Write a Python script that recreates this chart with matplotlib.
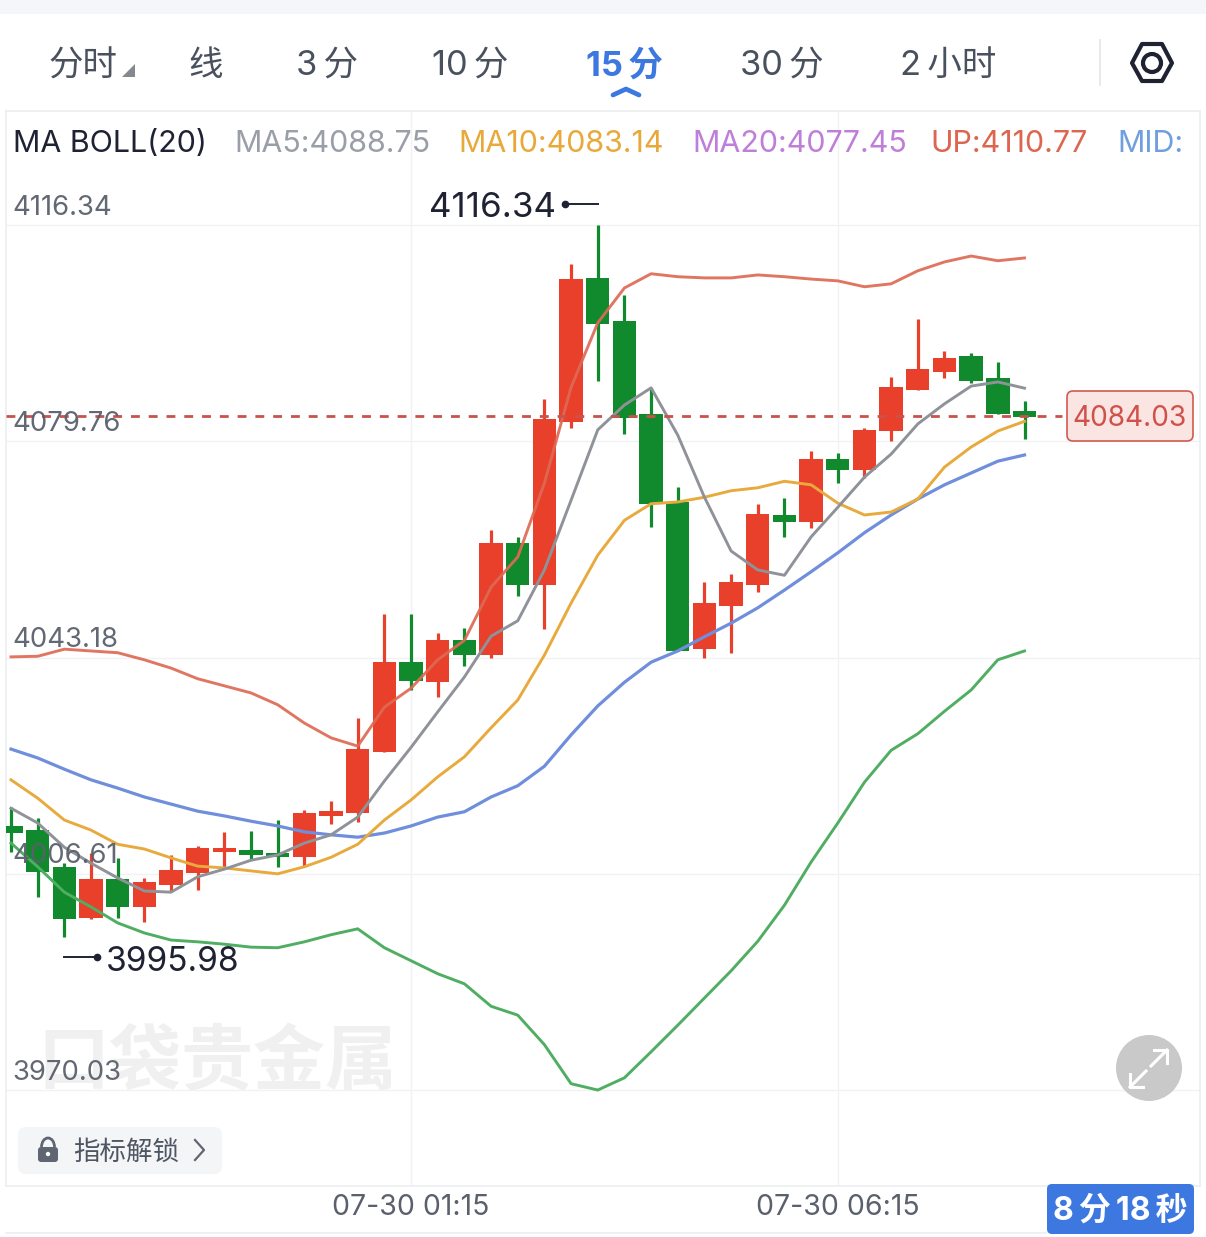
"""
plot.py - 15 minute gold candle chart with MA and BOLL(20) lines, app screen look.
"""

import matplotlib
matplotlib.use("Agg")
import matplotlib.pyplot as plt
from matplotlib.patches import Circle, FancyBboxPatch, Polygon, Rectangle, Arc

W, H = 1206, 1237
FONT = ["Inter", "Noto Sans CJK SC", "DejaVu Sans"]
plt.rcParams["font.family"] = FONT

# ── Data ─────────────────────────────────────────────────────────────────────

opens = [4014.7, 4014.0, 4007.8, 3999.1, 4005.7, 4001.0, 4004.7, 4006.7, 4010.3, 4010.6,
         4010.1, 4009.4, 4016.4, 4016.9, 4027.2, 4042.4, 4039.0, 4046.1, 4043.6, 4062.6,
         4055.5, 4083.0, 4107.4, 4100.1, 4084.4, 4069.5, 4044.6, 4051.9, 4055.5, 4067.3,
         4066.1, 4076.8, 4074.9, 4081.5, 4088.4, 4091.5, 4094.2, 4090.5, 4084.9]
closes = [4013.5, 4006.9, 3999.0, 4005.7, 4001.0, 4005.2, 4007.3, 4011.0, 4011.0, 4009.8,
          4009.4, 4016.9, 4017.2, 4027.7, 4042.4, 4039.2, 4046.1, 4043.6, 4062.6, 4055.5,
          4083.5, 4107.2, 4099.6, 4083.7, 4069.2, 4044.3, 4052.4, 4056.0, 4067.5, 4066.1,
          4076.8, 4074.9, 4081.7, 4088.9, 4092.0, 4093.9, 4090.0, 4084.4, 4083.9]
highs = [4017.9, 4016.0, 4008.4, 4010.1, 4009.3, 4005.9, 4009.8, 4011.3, 4013.7, 4013.8,
         4015.7, 4017.4, 4018.9, 4033.0, 4050.5, 4050.5, 4047.3, 4048.2, 4064.8, 4063.6,
         4086.9, 4109.75, 4116.34, 4104.5, 4088.8, 4072.0, 4056.0, 4057.3, 4069.2, 4070.2,
         4078.1, 4077.8, 4082.0, 4090.6, 4100.4, 4095.0, 4094.7, 4093.2, 4086.6]
lows = [4010.3, 4002.7, 3995.98, 3999.0, 3999.1, 3998.5, 4003.7, 4003.9, 4007.6, 4008.9,
        4007.8, 4007.9, 4015.0, 4015.4, 4027.2, 4037.7, 4036.5, 4041.8, 4043.1, 4053.6,
        4048.0, 4082.0, 4090.0, 4081.0, 4065.3, 4044.3, 4043.1, 4044.0, 4054.3, 4063.6,
        4065.1, 4072.7, 4073.6, 4079.8, 4088.4, 4090.5, 4089.6, 4084.4, 4080.2]

ma5 = [4017.7, 4015.2, 4011.1, 4008.4, 4005.9, 4003.7, 4003.5, 4006.1, 4007.4, 4008.9,
       4009.8, 4011.8, 4013.2, 4016.2, 4022.3, 4028.0, 4034.0, 4039.9, 4046.8, 4049.4,
       4058.0, 4069.8, 4081.7, 4085.9, 4088.8, 4080.8, 4070.3, 4061.2, 4058.0, 4057.1,
       4063.6, 4068.6, 4073.7, 4077.6, 4082.7, 4086.1, 4089.1, 4089.8, 4088.75]
ma10 = [4022.5, 4019.4, 4015.7, 4014.0, 4011.6, 4010.8, 4009.3, 4007.9, 4007.6, 4007.1,
        4006.6, 4007.8, 4009.4, 4011.6, 4015.7, 4019.1, 4023.0, 4026.4, 4031.3, 4036.0,
        4043.6, 4052.4, 4060.5, 4066.4, 4069.2, 4069.5, 4070.3, 4071.4, 4071.9, 4073.0,
        4072.4, 4069.3, 4067.3, 4067.8, 4070.0, 4075.4, 4078.8, 4081.5, 4083.14]
boll_mid = [4027.7, 4026.2, 4024.3, 4022.5, 4021.1, 4019.6, 4018.4, 4017.2, 4016.4, 4015.5,
            4014.7, 4013.7, 4013.2, 4012.8, 4013.5, 4014.7, 4016.2, 4017.1, 4019.6, 4021.5,
            4024.8, 4030.1, 4035.0, 4039.0, 4042.4, 4044.3, 4046.7, 4049.0, 4051.6, 4054.6,
            4057.7, 4060.9, 4064.3, 4067.3, 4070.0, 4072.4, 4074.4, 4076.4, 4077.45]
boll_up = [4043.3, 4043.4, 4044.6, 4044.3, 4044.0, 4042.8, 4041.4, 4039.6, 4038.4, 4037.2,
           4035.2, 4032.1, 4029.6, 4028.2, 4034.8, 4038.0, 4042.8, 4046.1, 4055.1, 4060.2,
           4072.7, 4088.9, 4099.8, 4105.7, 4108.1, 4107.6, 4107.4, 4107.4, 4107.9, 4107.6,
           4107.2, 4106.9, 4105.9, 4106.4, 4108.6, 4110.1, 4111.1, 4110.3, 4110.77]
boll_dn = [4011.8, 4007.8, 4003.5, 4001.0, 3998.3, 3996.6, 3995.4, 3995.1, 3994.7, 3994.2,
           3994.1, 3995.1, 3996.3, 3997.3, 3994.1, 3991.9, 3989.7, 3988.0, 3984.2, 3982.7,
           3977.7, 3971.1, 3970.03, 3972.1, 3976.5, 3981.0, 3985.6, 3990.2, 3995.2, 4001.3,
           4008.6, 4015.2, 4022.1, 4027.5, 4030.3, 4034.1, 4037.7, 4042.8, 4044.3]

last_price = 4084.03
price_ticks = [4116.34, 4079.76, 4043.18, 4006.61, 3970.03]
price_labels = ["4116.34", "4079.76", "4043.18", "4006.61", "3970.03"]
time_ticks = [15, 31]
time_labels = ["07-30 01:15", "07-30 06:15"]
tabs = ["分时", "线", "3\u2009分", "10\u2009分", "15\u2009分", "30\u2009分", "2\u2009小时"]
legend_labels = ["MA BOLL(20)", "MA5:4088.75", "MA10:4083.14", "MA20:4077.45", "UP:4110.77", "MID:"]

RED = "#e8402a"
GREEN = "#108a2c"
INK = "#1e2233"
LABEL = "#5a606c"
BLUE = "#3d78e0"
LINE = "#ebecef"


def px_axes(fig, z):
    a = fig.add_axes([0, 0, 1, 1], zorder=z)
    a.set_xlim(0, W)
    a.set_ylim(H, 0)
    a.axis("off")
    a.patch.set_alpha(0)
    return a


def fs(px):
    return px * 72 / 100


fig = plt.figure(figsize=(W / 100, H / 100), dpi=100, facecolor="white")

# ── Watermark and band behind the chart ──────────────────────────────────────

back = px_axes(fig, 0)
back.add_patch(Rectangle((0, 0), W, 14, color="#f5f6f9", lw=0))
back.text(217, 1064, "口袋贵金属", fontsize=fs(72), fontweight="bold", color="#f0f0f1",
          ha="center", va="center", style="italic")

# ── Price chart ──────────────────────────────────────────────────────────────

ax = fig.add_axes([6 / W, (H - 1186) / H, 1194 / W, 1075 / H], zorder=1)
ax.patch.set_alpha(0)
ax.set_xlim(-0.1875, 44.58)
ax.set_ylim(3953.80, 4135.63)

for s in ax.spines.values():
    s.set_color(LINE)
    s.set_linewidth(1.1)

ax.set_yticks(price_ticks)
ax.set_xticks(time_ticks)
ax.set_xticklabels(time_labels, fontsize=fs(28.5), color=LABEL)
ax.tick_params(length=0, labelleft=False, pad=6)
ax.grid(color="#f1f2f4", linewidth=1.0)
ax.set_axisbelow(True)

idx = list(range(len(opens)))
colors = [RED if c >= o else GREEN for o, c in zip(opens, closes)]
ax.vlines(idx, lows, highs, colors=colors, linewidth=2.3, zorder=2)
ax.bar(idx, [abs(c - o) for o, c in zip(opens, closes)],
       bottom=[min(o, c) for o, c in zip(opens, closes)],
       width=0.875, color=colors, linewidth=0, zorder=3)

ax.plot(idx, boll_up, color="#de6a55", lw=2.1, alpha=0.92, zorder=4)
ax.plot(idx, boll_dn, color="#4fae62", lw=2.1, zorder=4)
ax.plot(idx, boll_mid, color="#6f8edb", lw=2.3, zorder=4)
ax.plot(idx, ma10, color="#e8aa3c", lw=2.1, zorder=4)
ax.plot(idx, ma5, color="#8f9299", lw=2.1, zorder=4)

ax.plot([-0.1875, 39.4], [last_price, last_price], color="#c9524d", lw=2.0,
        dashes=(3.2, 3.2), zorder=5)

for tick, lab in zip(price_ticks, price_labels):
    ax.annotate(lab, (0, tick), xycoords=ax.get_yaxis_transform(),
                xytext=(4.5, 12.5), textcoords="offset points", fontsize=fs(27.5),
                color=LABEL, ha="left", va="center", zorder=6, alpha=0.95)

# ── App chrome on top ────────────────────────────────────────────────────────

top = px_axes(fig, 2)

tab_x = [83, 206, 327, 470, 624, 782, 948]
for i, (t, x) in enumerate(zip(tabs, tab_x)):
    active = "15" in t
    top.text(x, 66, t, fontsize=fs(34.5), ha="center", va="center",
             color=BLUE if active else "#4a515e",
             fontweight="bold" if active else "normal")

top.add_patch(Polygon([[135, 64], [135, 77], [122, 77]], color="#85888f", lw=0))
top.plot([613, 626, 639], [95, 89, 95], color=BLUE, lw=3.4, solid_capstyle="round",
         solid_joinstyle="round")
top.plot([1100, 1100], [40, 85], color="#e8e9eb", lw=1.4)
top.add_patch(Polygon([[1132, 63], [1142, 44], [1162, 44], [1172, 63], [1162, 81], [1142, 81]],
                      closed=True, fill=False, ec=INK, lw=3.0, joinstyle="round"))
top.add_patch(Circle((1152, 63), 9, fill=False, ec=INK, lw=3.0))

legend_x = [13, 234, 458, 692, 930, 1117]
legend_c = [INK, "#9a9ea8", "#e8a93a", "#bf7fd9", "#dd6650", "#6f9fe0"]
for t, x, c in zip(legend_labels, legend_x, legend_c):
    top.text(x, 144, t, fontsize=fs(30.4), color=c, ha="left", va="center")

# high / low markers
top.text(429, 208, "4116.34", fontsize=fs(35), color=INK, ha="left", va="center")
top.plot([565, 598], [204, 204], color=INK, lw=1.4)
top.plot([565], [204], "o", color=INK, ms=4.5)
top.text(106, 962, "3995.98", fontsize=fs(33.5), color=INK, ha="left", va="center")
top.plot([64, 97], [957, 957], color=INK, lw=1.4)
top.plot([97], [957], "o", color=INK, ms=4.5)

# last price tag
top.add_patch(FancyBboxPatch((1069, 393), 122, 46, boxstyle="round,pad=2,rounding_size=6",
                             fc="#fbe5e3", ec="#d05a50", lw=1.2))
top.text(1130, 418, "4084.03", fontsize=fs(28), color="#d0514a", ha="center", va="center")

# expand button
top.add_patch(Circle((1149, 1068), 33, color="#c9c9c9", lw=0))
top.plot([1130, 1146], [1087, 1071], color="white", lw=2.2)
top.plot([1130, 1130, 1143], [1074, 1087, 1087], color="white", lw=2.2)
top.plot([1151, 1167], [1066, 1050], color="white", lw=2.2)
top.plot([1154, 1167, 1167], [1050, 1050, 1063], color="white", lw=2.2)

# indicator unlock button
top.add_patch(FancyBboxPatch((24, 1133), 192, 35, boxstyle="round,pad=6,rounding_size=8",
                             fc="#f4f5f7", ec="none"))
top.add_patch(FancyBboxPatch((38, 1147), 20, 15, boxstyle="round,pad=0,rounding_size=3",
                             fc="#5f6672", ec="none"))
top.add_patch(Arc((48, 1147), 13, 18, theta1=180, theta2=360, ec="#5f6672", lw=2.0))
top.add_patch(Circle((48, 1154), 2.2, color="white", lw=0))
top.text(73, 1153, "指标解锁", fontsize=fs(26.5), color="#4f5663", ha="left", va="center")
top.plot([195, 204, 195], [1140, 1150, 1160], color="#5f6672", lw=1.6)

# countdown badge
top.add_patch(FancyBboxPatch((1051, 1188), 139, 42, boxstyle="round,pad=4,rounding_size=5",
                             fc=BLUE, ec="none"))
top.text(1120, 1211, "8\u2009分\u200918\u2009秒", fontsize=fs(32), color="white", fontweight="bold",
         ha="center", va="center")
top.plot([6, 1046], [1233, 1233], color=LINE, lw=1.1)

fig.savefig("out.png", dpi=100)
